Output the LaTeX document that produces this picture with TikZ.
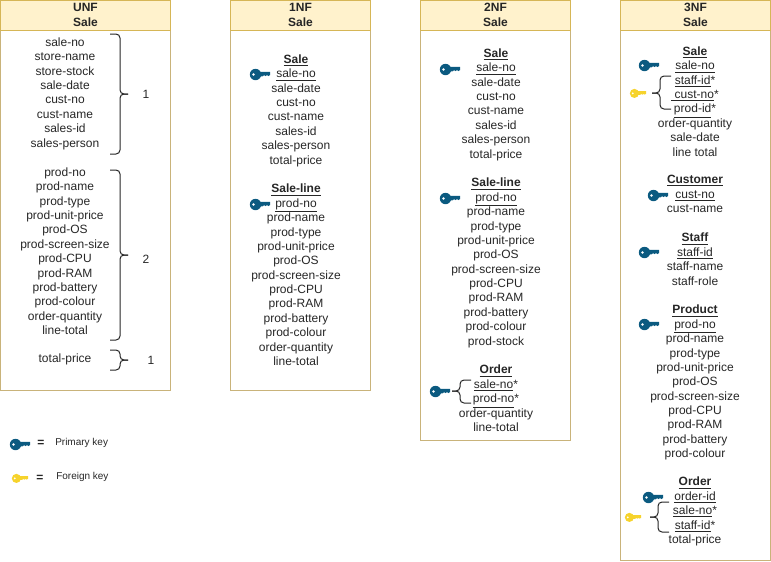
\documentclass[tikz,border=0pt]{standalone}
\usepackage{fontspec}
\usepackage{xcolor}
\usetikzlibrary{positioning}
\setmainfont{Liberation Sans}
\definecolor{headfill}{HTML}{fff2cc}
\definecolor{headline}{HTML}{d6b656}
\definecolor{bodyline}{HTML}{c9b37a}
\definecolor{darkblue}{HTML}{0b5a80}
\definecolor{darkyellow}{HTML}{f6d32c}
\definecolor{inktext}{HTML}{262626}
\newcommand{\tabletitle}[1]{\textbf{\underline{#1}}}
\tikzset {
  % table boxes
  thead/.style = {draw=headline, fill=headfill, line width=.75pt, outer sep=0pt, inner sep=0pt,
    minimum height=22.5pt, align=center, text=inktext, font=\fontsize{9}{10.8}\selectfont\bfseries},
  tbody/.style = {draw=bodyline, line width=.75pt, outer sep=0pt, inner sep=0pt, anchor=north west},
  % column of attributes
  attrs/.style = {align=center, inner sep=0pt, anchor=north, text=inktext, font=\fontsize{9}{10.78}\selectfont},
  num/.style = {inner sep=0pt, text=inktext, font=\fontsize{9}{10.8}\selectfont},
  legend/.style = {inner sep=0pt, anchor=west, text=inktext, font=\fontsize{7.5}{9}\selectfont},
  eq/.style = {inner sep=0pt, text=inktext, font=\fontsize{9}{10.8}\selectfont\bfseries},
  curly/.style = {draw=black!85, line width=.75pt, rounded corners=3pt},
  % key icons, origin at the middle of the key
  key/.pic = {
    \fill[even odd rule] (-4.5,.5) circle (5.7) (-6.5,.5) circle (1.6);
    \fill (-2,-2.2) -- (10,-2.2) -- (10,1) -- (8.5,2) -- (7,1.2) -- (5.5,2) -- (4,1.2) -- (2.5,2.4) -- (-2,2.4) -- cycle;
  },
  primary/.style = {fill=darkblue},
  foreign/.style = {fill=darkyellow, scale=.8},
}
\begin{document}
\begin{tikzpicture}[x=.75pt, y=-.75pt]
  \useasboundingbox (0,0) rectangle (771,561);

  % UNF
  \node[tbody, minimum width=127.5pt, minimum height=270pt] (unfbody) at (.5,30) {};
  \node[thead, minimum width=127.5pt, above=0pt of unfbody] (unfhead) {UNF\\Sale};
  \node[attrs] (unfa) at (65,37.5) {sale-no\\store-name\\store-stock\\sale-date\\cust-no\\cust-name\\sales-id\\sales-person};
  \node[attrs] (unfb) at (65,167.5) {prod-no\\prod-name\\prod-type\\prod-unit-price\\prod-OS\\prod-screen-size\\prod-CPU\\prod-RAM\\prod-battery\\prod-colour\\order-quantity\\line-total};
  \node[attrs] (unfc) at (65,354) {total-price};
  \node[num] (numa) at (146,94) {1};
  \node[num] (numb) at (146,259) {2};
  \node[num] (numc) at (151,360) {1};
  \coordinate (at) at (110,34);
  \coordinate (ab) at (110,154);
  \coordinate (am) at (120,94);
  \coordinate (ae) at (128,94);
  \draw[curly] (at) -| (am) -- (ae);
  \draw[curly] (ab) -| (am) -- (ae);
  \coordinate (bt) at (110,170);
  \coordinate (bb) at (110,340);
  \coordinate (bm) at (120,255);
  \coordinate (be) at (128,255);
  \draw[curly] (bt) -| (bm) -- (be);
  \draw[curly] (bb) -| (bm) -- (be);
  \coordinate (ct) at (110,350);
  \coordinate (cb) at (110,370);
  \coordinate (cm) at (120,360);
  \coordinate (ce) at (128,360);
  \draw[curly] (ct) -| (cm) -- (ce);
  \draw[curly] (cb) -| (cm) -- (ce);

  % 1NF
  \node[tbody, minimum width=105pt, minimum height=270pt] (onebody) at (230.5,30) {};
  \node[thead, minimum width=105pt, above=0pt of onebody] (onehead) {1NF\\Sale};
  \node[attrs] (onea) at (296,54.5) {\tabletitle{Sale}\\\underline{sale-no}\\sale-date\\cust-no\\cust-name\\sales-id\\sales-person\\total-price};
  \node[attrs] (oneb) at (296,184) {\tabletitle{Sale-line}\\\underline{prod-no}\\prod-name\\prod-type\\prod-unit-price\\prod-OS\\prod-screen-size\\prod-CPU\\prod-RAM\\prod-battery\\prod-colour\\order-quantity\\line-total};
  \pic[primary] (onekeya) at (260,74) {key};
  \pic[primary] (onekeyb) at (260,204) {key};

  % 2NF
  \node[tbody, minimum width=112.5pt, minimum height=307.5pt] (twobody) at (420.5,30) {};
  \node[thead, minimum width=112.5pt, above=0pt of twobody] (twohead) {2NF\\Sale};
  \node[attrs] (twoa) at (496,48.5) {\tabletitle{Sale}\\\underline{sale-no}\\sale-date\\cust-no\\cust-name\\sales-id\\sales-person\\total-price};
  \node[attrs] (twob) at (496,178) {\tabletitle{Sale-line}\\\underline{prod-no}\\prod-name\\prod-type\\prod-unit-price\\prod-OS\\prod-screen-size\\prod-CPU\\prod-RAM\\prod-battery\\prod-colour\\prod-stock};
  \node[attrs] (twoc) at (496,365) {\tabletitle{Order}\\\underline{sale-no}*\\\underline{prod-no}*\\order-quantity\\line-total};
  \pic[primary] (twokeya) at (450,69) {key};
  \pic[primary] (twokeyb) at (450,198) {key};
  \pic[primary] (twokeyc) at (440,391) {key};
  \coordinate (dt) at (471,380);
  \coordinate (db) at (471,403);
  \coordinate (dm) at (460,391);
  \coordinate (de) at (452,391);
  \draw[curly] (dt) -| (dm) -- (de);
  \draw[curly] (db) -| (dm) -- (de);

  % 3NF
  \node[tbody, minimum width=112.5pt, minimum height=397.5pt] (thrbody) at (620.5,30) {};
  \node[thead, minimum width=112.5pt, above=0pt of thrbody] (thrhead) {3NF\\Sale};
  \node[attrs] (thra) at (695,46.5) {\tabletitle{Sale}\\\underline{sale-no}\\\underline{staff-id}*\\\underline{\ cust-no}*\\\underline{prod-id}*\\order-quantity\\sale-date\\line total};
  \node[attrs] (thrb) at (695,175) {\tabletitle{Customer}\\\underline{cust-no}\\cust-name};
  \node[attrs] (thrc) at (695,233) {\tabletitle{Staff}\\\underline{staff-id}\\staff-name\\staff-role};
  \node[attrs] (thrd) at (695,305) {\tabletitle{Product}\\\underline{prod-no}\\prod-name\\prod-type\\prod-unit-price\\prod-OS\\prod-screen-size\\prod-CPU\\prod-RAM\\prod-battery\\prod-colour};
  \node[attrs] (thre) at (695,477) {\tabletitle{Order}\\\underline{order-id}\\\underline{sale-no}*\\\underline{staff-id}*\\total-price};
  \pic[primary] (thrkeya) at (649,65) {key};
  \pic[foreign] (thrkeyb) at (638,93) {key};
  \pic[primary] (thrkeyc) at (658,195) {key};
  \pic[primary] (thrkeyd) at (649,252) {key};
  \pic[primary] (thrkeye) at (649,324) {key};
  \pic[primary] (thrkeyf) at (653,497) {key};
  \pic[foreign] (thrkeyg) at (633,517) {key};
  \coordinate (et) at (671,76);
  \coordinate (eb) at (671,109);
  \coordinate (em) at (660,93);
  \coordinate (ee) at (652,93);
  \draw[curly] (et) -| (em) -- (ee);
  \draw[curly] (eb) -| (em) -- (ee);
  \coordinate (ft) at (669,502);
  \coordinate (fb) at (669,532);
  \coordinate (fm) at (658,517);
  \coordinate (fe) at (650,517);
  \draw[curly] (ft) -| (fm) -- (fe);
  \draw[curly] (fb) -| (fm) -- (fe);

  % legend
  \pic[primary] (legkeya) at (20,444) {key};
  \pic[foreign] (legkeyb) at (20,478) {key};
  \node[eq] (eqa) at (41,443) {=};
  \node[eq] (eqb) at (40,478) {=};
  \node[legend] (lega) at (55,443) {Primary key};
  \node[legend] (legb) at (56,477) {Foreign key};
\end{tikzpicture}
\end{document}
